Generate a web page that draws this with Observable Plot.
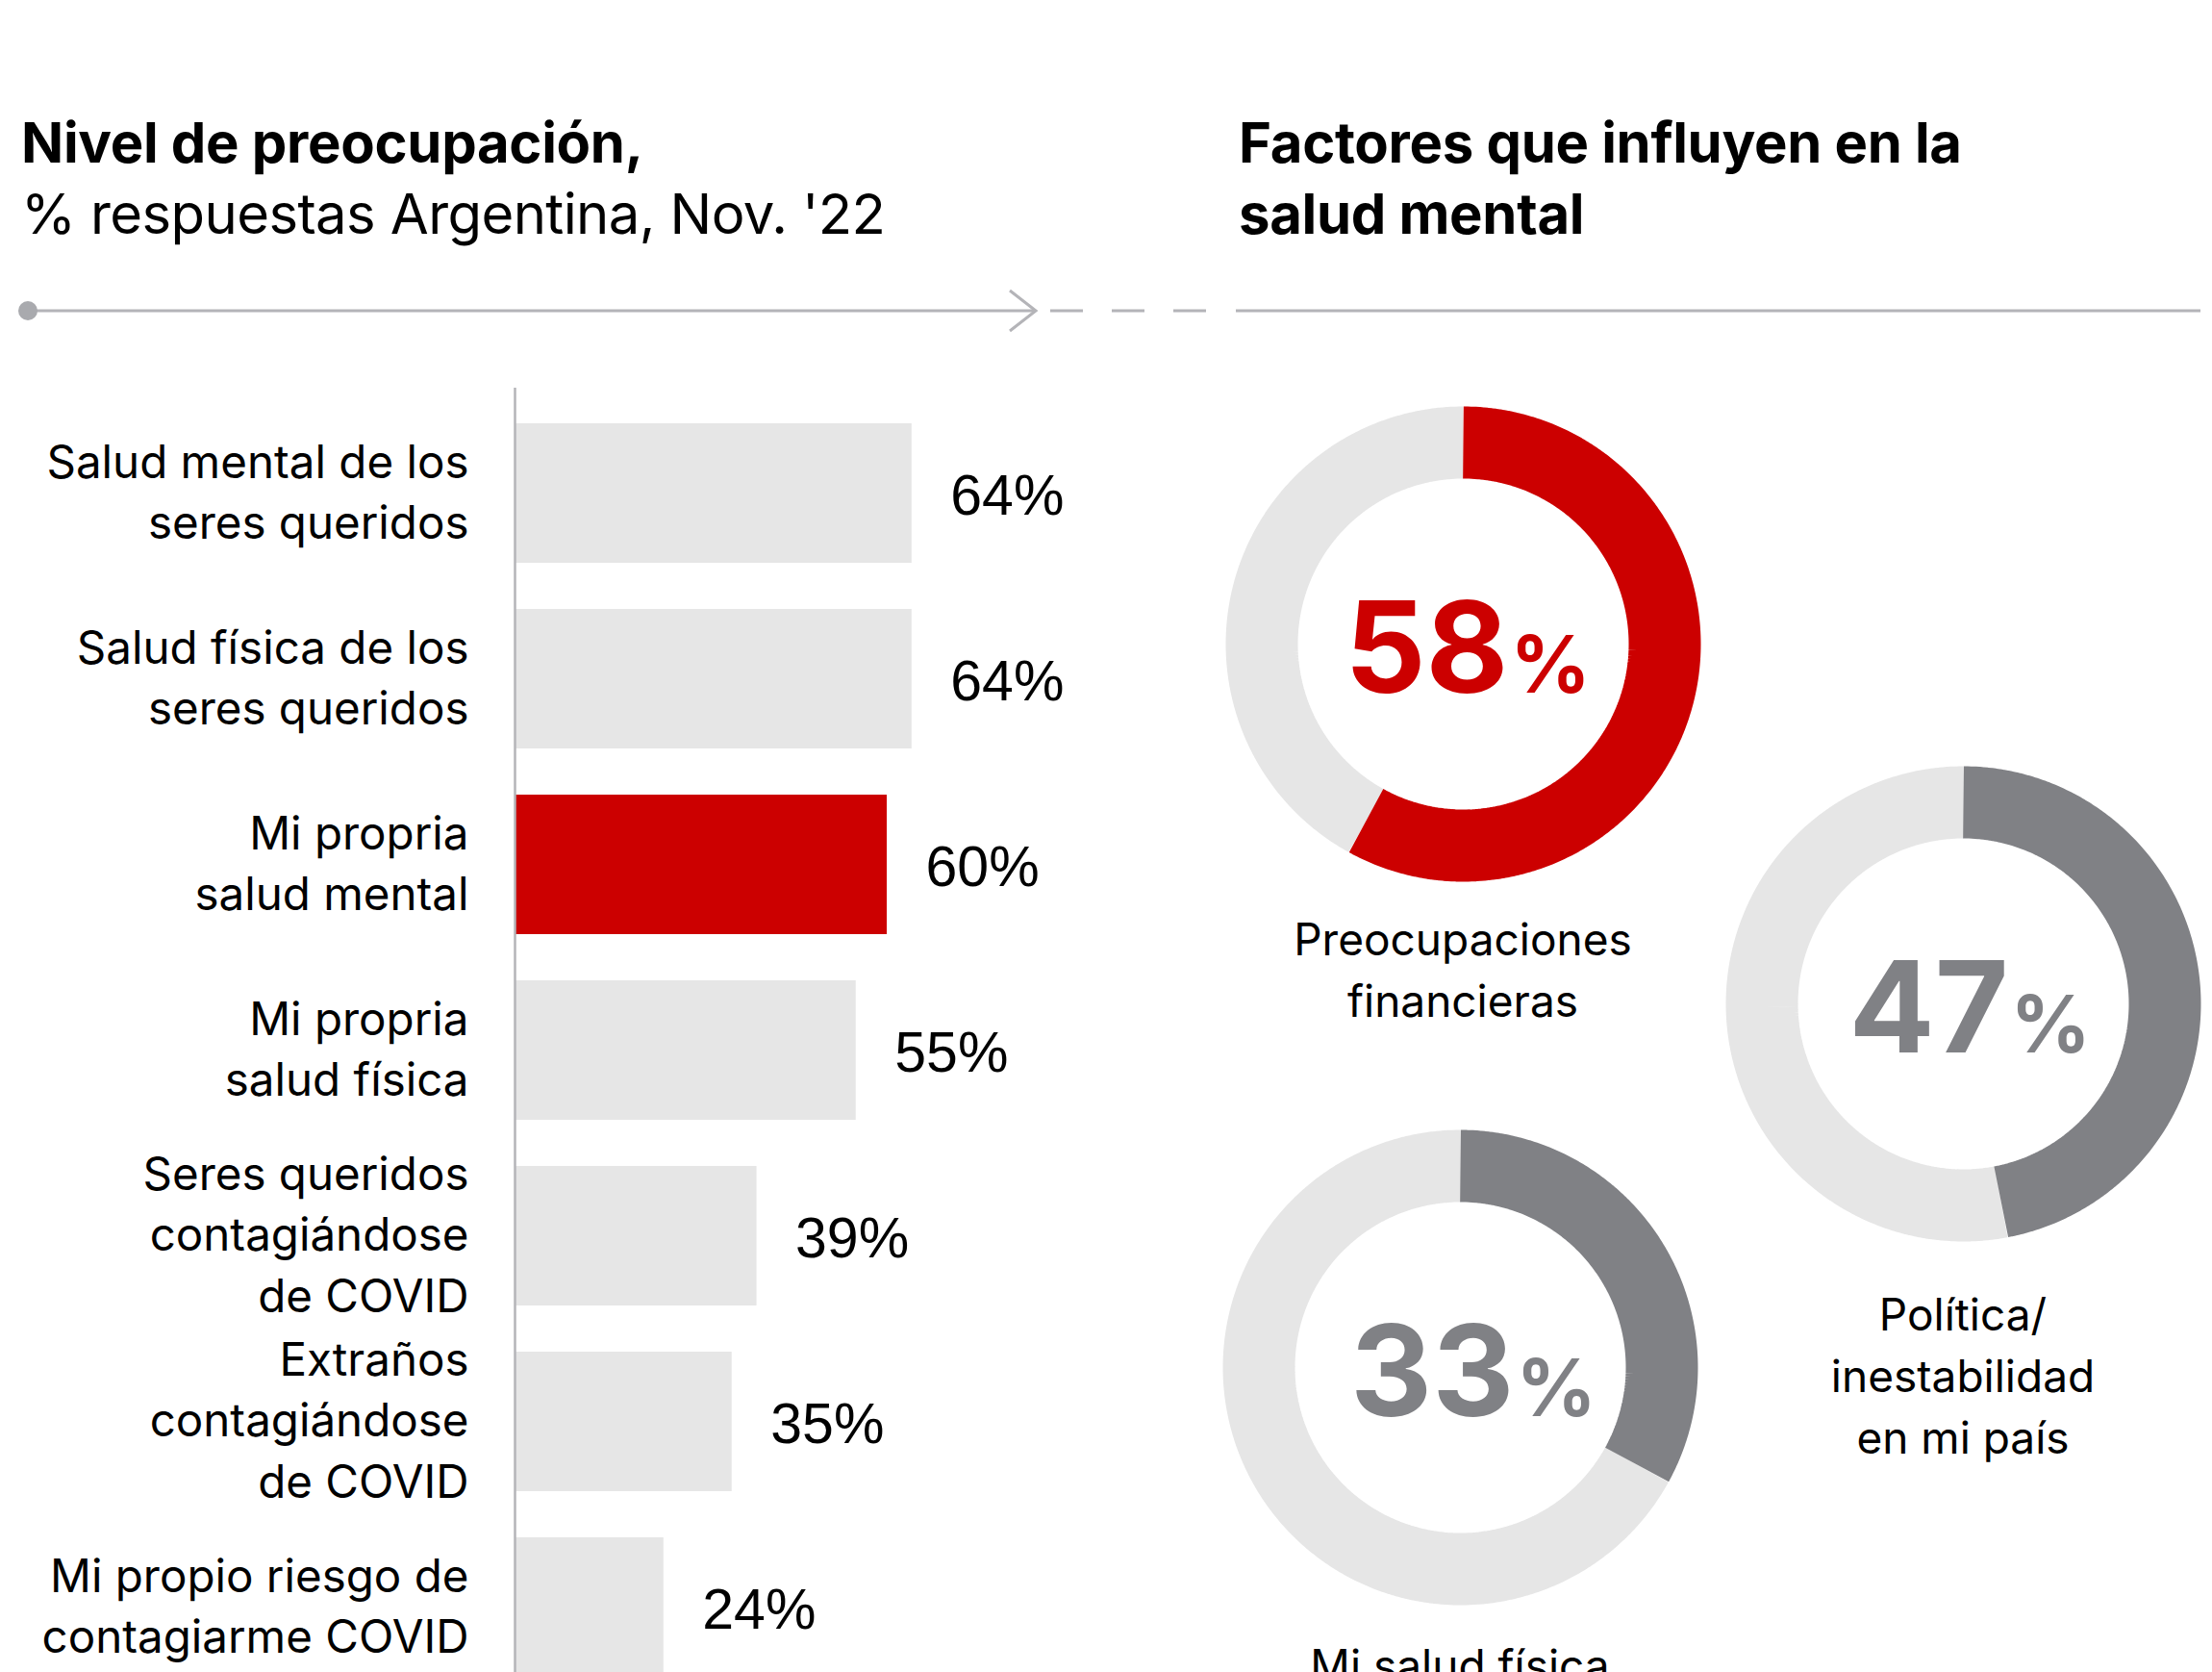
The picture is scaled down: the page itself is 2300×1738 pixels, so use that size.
<!DOCTYPE html>
<html>
<head>
<meta charset="utf-8">
<script src="https://cdn.jsdelivr.net/npm/d3@7"></script>
<script src="https://cdn.jsdelivr.net/npm/@observablehq/plot@0.6"></script>
<style>
  html, body { margin: 0; padding: 0; background: #fff; width: 2300px; height: 1738px; overflow: hidden; }
  body { font-family: Inter, "Noto Sans", sans-serif; color: #000; }
  #root { position: relative; width: 2300px; height: 1738px; overflow: hidden; }
  .abs { position: absolute; }
  .title { font-size: 58px; line-height: 74px; font-weight: 700; white-space: nowrap; letter-spacing: -0.3px; }
  .title .sub { font-weight: 400; letter-spacing: -0.6px; }
  .dlabel { font-size: 46px; line-height: 64px; text-align: center; width: 600px; white-space: nowrap; }
  svg { overflow: visible; }
</style>
</head>
<body>
<div id="root"></div>
<script>
// ---- Data ----
const categorias = [
  "Salud mental de los\nseres queridos",
  "Salud física de los\nseres queridos",
  "Mi propria\nsalud mental",
  "Mi propria\nsalud física",
  "Seres queridos\ncontagiándose\nde COVID",
  "Extraños\ncontagiándose\nde COVID",
  "Mi propio riesgo de\ncontagiarme COVID"
];
const valores = [64, 64, 60, 55, 39, 35, 24];
const destacada = "Mi propria\nsalud mental";

const factores = ["Preocupaciones\nfinancieras", "Política/\ninestabilidad\nen mi país", "Mi salud física"];
const factoresValores = [58, 47, 33];
const factoresDestacado = [true, false, false];

// ---- Styles / layout ----
const ROJO = "#cc0000";
const GRIS_OSCURO = "#808185";
const GRIS_CLARO = "#e6e6e6";
const GRIS_LINEA = "#b4b4b8";
const FONT = "Inter, 'Noto Sans', sans-serif";
const FONT_NUM = "'Liberation Sans', Arial, sans-serif";

const root = document.getElementById("root");

function place(el, left, top) {
  el.classList.add("abs");
  el.style.left = left + "px";
  el.style.top = top + "px";
  root.appendChild(el);
  return el;
}

// Titles
const t1 = document.createElement("div");
t1.className = "title";
t1.innerHTML = "Nivel de preocupación,<br><span class='sub'>% respuestas Argentina, Nov. '22</span>";
place(t1, 22, 111);

const t2 = document.createElement("div");
t2.className = "title";
t2.innerHTML = "Factores que influyen en la<br>salud mental";
place(t2, 1288, 111);

// Header divider (decorative)
const ns = "http://www.w3.org/2000/svg";
const hdr = document.createElementNS(ns, "svg");
hdr.setAttribute("width", 2300);
hdr.setAttribute("height", 60);
hdr.innerHTML = `
  <g stroke="${GRIS_LINEA}" stroke-width="3" fill="none">
    <line x1="29" y1="30" x2="1077" y2="30"/>
    <polyline points="1050,9 1077,30 1050,51" stroke-width="3"/>
    <line x1="1092" y1="30" x2="1126" y2="30"/>
    <line x1="1156" y1="30" x2="1190" y2="30"/>
    <line x1="1220" y1="30" x2="1254" y2="30"/>
    <line x1="1285" y1="30" x2="2288" y2="30"/>
  </g>
  <circle cx="29" cy="30" r="10" fill="#a9aaae"/>`;
place(hdr, 0, 293);

// ---- Bar chart ----
const datos = categorias.map((c, i) => ({cat: c, valor: valores[i], tipo: c === destacada ? "si" : "no"}));
const pxPorPunto = 6.45;
const barWidth = 1150, barLeft = 535;
const barChart = Plot.plot({
  width: barWidth,
  height: 1377,
  marginLeft: barLeft,
  marginRight: 0,
  marginTop: 0,
  marginBottom: 0,
  style: {fontFamily: FONT, background: "transparent", overflow: "visible"},
  x: {domain: [0, (barWidth - barLeft) / pxPorPunto], axis: null},
  y: {domain: categorias, paddingInner: 0.25, paddingOuter: 0.19, axis: null},
  color: {domain: ["no", "si"], range: [GRIS_CLARO, ROJO]},
  marks: [
    Plot.barX(datos, {x: "valor", y: "cat", fill: "tipo"}),
    Plot.ruleX([0], {stroke: GRIS_LINEA, strokeWidth: 2.5}),
    Plot.text(datos, {x: "valor", y: "cat", text: d => d.valor + "%", textAnchor: "start", dx: 40, dy: 3, fontSize: 59, fontFamily: FONT_NUM, fill: "#000"}),
    Plot.text(datos, {y: "cat", frameAnchor: "left", text: "cat", textAnchor: "end", dx: -48, dy: -5, fontSize: 47.5, lineHeight: 1.34, fill: "#000"})
  ]
});
place(barChart, 0, 403);

// ---- Donuts ----
const centros = [[1521, 668.5], [2041, 1043], [1518, 1421]];
const desplazTexto = [0, 0, 9];
const etiquetaTop = [944, 1334, 1699];
const radioMedio = 209.5, grosor = 75, half = 260;

function arco(desde, hasta, r) {
  const n = Math.max(2, Math.ceil((hasta - desde) * 360));
  const pts = [];
  for (let i = 0; i <= n; i++) {
    const t = (desde + (hasta - desde) * i / n) * 2 * Math.PI;
    pts.push({x: r * Math.sin(t), y: r * Math.cos(t)});
  }
  return pts;
}

factores.forEach((f, i) => {
  const v = factoresValores[i];
  const color = factoresDestacado[i] ? ROJO : GRIS_OSCURO;
  const valorPts = arco(0, v / 100, radioMedio);
  const restoPts = arco(v / 100, 1, radioMedio);
  const s = desplazTexto[i];
  const donut = Plot.plot({
    width: 2 * half,
    height: 2 * half,
    margin: 0,
    style: {fontFamily: FONT, background: "transparent", overflow: "visible"},
    x: {domain: [-half, half], axis: null},
    y: {domain: [-half, half], axis: null},
    marks: [
      Plot.line(restoPts, {x: "x", y: "y", stroke: GRIS_CLARO, strokeWidth: grosor, strokeLinecap: "butt", strokeLinejoin: "miter"}),
      Plot.line(valorPts, {x: "x", y: "y", stroke: color, strokeWidth: grosor, strokeLinecap: "butt", strokeLinejoin: "miter"}),
      Plot.text([v], {frameAnchor: "middle", text: d => String(d), textAnchor: "end", lineAnchor: "bottom", dx: 47 + s, dy: 50, fontSize: 132, fontWeight: 700, fill: color}),
      Plot.text([v], {frameAnchor: "middle", text: () => "%", textAnchor: "start", lineAnchor: "bottom", dx: 49 + s, dy: 50, fontSize: 82, fontWeight: 700, fill: color})
    ]
  });
  place(donut, centros[i][0] - half, centros[i][1] - half);

  const lab = document.createElement("div");
  lab.className = "dlabel";
  lab.innerHTML = f.split("\n").join("<br>");
  place(lab, centros[i][0] - 300, etiquetaTop[i]);
});
</script>
</body>
</html>
